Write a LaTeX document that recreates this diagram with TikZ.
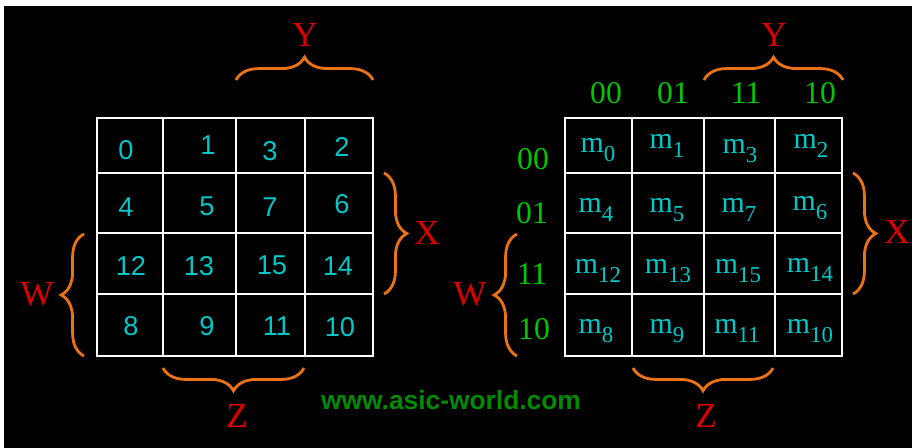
\documentclass[tikz,border=0pt]{standalone}
\usepackage{fontspec}
\setmainfont{Liberation Serif}
\setsansfont{Liberation Sans}
\usepackage{tikz}
\definecolor{cy}{RGB}{0, 200, 200}
\definecolor{gr}{RGB}{0, 200, 0}
\definecolor{wm}{RGB}{0, 140, 0}
\definecolor{rd}{RGB}{220, 0, 0}
\definecolor{og}{RGB}{235, 115, 20}
\usetikzlibrary{decorations.pathreplacing}
\newcommand{\mt}[1]{m\raisebox{-5pt}{\fontsize{13}{13}\selectfont #1}}

\begin{document}
\begin{tikzpicture}
		[x=0.02cm,y=-0.02cm,every node/.style={inner sep=0pt},
		num/.style={text=cy, font=\sffamily\fontsize{15.5}{15.5}\selectfont},
		mnode/.style={text=cy, font=\fontsize{17}{17}\selectfont},
		head/.style={text=gr, font=\fontsize{18}{18}\selectfont},
		var/.style={text=rd, font=\fontsize{20}{20}\selectfont},
		brc/.style={draw=og, line width=1.6pt, decorate, decoration={brace, amplitude=13pt}},
		cell/.style={draw=white, line width=1.5pt, line cap=rect}]
		\useasboundingbox (0,0) rectangle (913,448);
		\fill [white] (0,0) rectangle (913,448);
		\fill [black] (4,6) rectangle (912,448);
		% left map
		\foreach \x in {97,163,236,305,373} \draw [cell] (\x,118) -- (\x,356);
		\foreach \y in {118,173,233,294,356} \draw [cell] (97,\y) -- (373,\y);
		\node (c0) [num] at (126,150) {0};
		\node (c1) [num] at (208,145) {1};
		\node (c3) [num] at (270,151) {3};
		\node (c2) [num] at (342,147) {2};
		\node (c4) [num] at (126,207) {4};
		\node (c5) [num] at (207,206) {5};
		\node (c7) [num] at (270,207) {7};
		\node (c6) [num] at (342,204) {6};
		\node (c12) [num] at (131,266) {12};
		\node (c13) [num] at (199,266) {13};
		\node (c15) [num] at (272,265) {15};
		\node (c14) [num] at (338,266) {14};
		\node (c8) [num] at (131,326) {8};
		\node (c9) [num] at (207,326) {9};
		\node (c11) [num] at (277,326) {11};
		\node (c10) [num] at (340,327) {10};
		\coordinate (ly1) at (236,80);
		\coordinate (ly2) at (373,80);
		\coordinate (lx1) at (384,173);
		\coordinate (lx2) at (384,294);
		\coordinate (lw1) at (84,356);
		\coordinate (lw2) at (84,234);
		\coordinate (lz1) at (304,368);
		\coordinate (lz2) at (163,368);
		\draw [brc] (ly1) -- (ly2);
		\draw [brc] (lx1) -- (lx2);
		\draw [brc] (lw1) -- (lw2);
		\draw [brc] (lz1) -- (lz2);
		\node (ly) [var] at (305,35) {Y};
		\node (lx) [var] at (427,233) {X};
		\node (lw) [var] at (37,294) {W};
		\node (lz) [var] at (237,416) {Z};
		% right map
		\foreach \x in {565,632,704,775,842} \draw [cell] (\x,118) -- (\x,356);
		\foreach \y in {118,173,233,294,356} \draw [cell] (565,\y) -- (842,\y);
		\node (m0) [mnode] at (598,150) {\mt{0}};
		\node (m1) [mnode] at (667,146) {\mt{1}};
		\node (m3) [mnode] at (740,151) {\mt{3}};
		\node (m2) [mnode] at (811,146) {\mt{2}};
		\node (m4) [mnode] at (596,210) {\mt{4}};
		\node (m5) [mnode] at (667,210) {\mt{5}};
		\node (m7) [mnode] at (739,210) {\mt{7}};
		\node (m6) [mnode] at (810,208) {\mt{6}};
		\node (m12) [mnode] at (598,271) {\mt{12}};
		\node (m13) [mnode] at (668,271) {\mt{13}};
		\node (m15) [mnode] at (738,271) {\mt{15}};
		\node (m14) [mnode] at (810,270) {\mt{14}};
		\node (m8) [mnode] at (596,331) {\mt{8}};
		\node (m9) [mnode] at (667,331) {\mt{9}};
		\node (m11) [mnode] at (737,331) {\mt{11}};
		\node (m10) [mnode] at (810,331) {\mt{10}};
		\node (h00) [head] at (606,93) {00};
		\node (h01) [head] at (673,93) {01};
		\node (h11) [head] at (746,93) {11};
		\node (h10) [head] at (820,93) {10};
		\node (v00) [head] at (533,159) {00};
		\node (v01) [head] at (532,213) {01};
		\node (v11) [head] at (532,274) {11};
		\node (v10) [head] at (534,329) {10};
		\coordinate (ry1) at (704,80);
		\coordinate (ry2) at (843,80);
		\coordinate (rx1) at (853,173);
		\coordinate (rx2) at (853,294);
		\coordinate (rw1) at (517,356);
		\coordinate (rw2) at (517,234);
		\coordinate (rz1) at (773,368);
		\coordinate (rz2) at (633,368);
		\draw [brc] (ry1) -- (ry2);
		\draw [brc] (rx1) -- (rx2);
		\draw [brc] (rw1) -- (rw2);
		\draw [brc] (rz1) -- (rz2);
		\node (ry) [var] at (774,35) {Y};
		\node (rx) [var] at (897,232) {X};
		\node (rw) [var] at (470,294) {W};
		\node (rz) [var] at (706,416) {Z};
		\node (www) [text=wm, font=\sffamily\bfseries\fontsize{15}{15}\selectfont] at (451,400) {www.asic-world.com};
\end{tikzpicture}
\end{document}
